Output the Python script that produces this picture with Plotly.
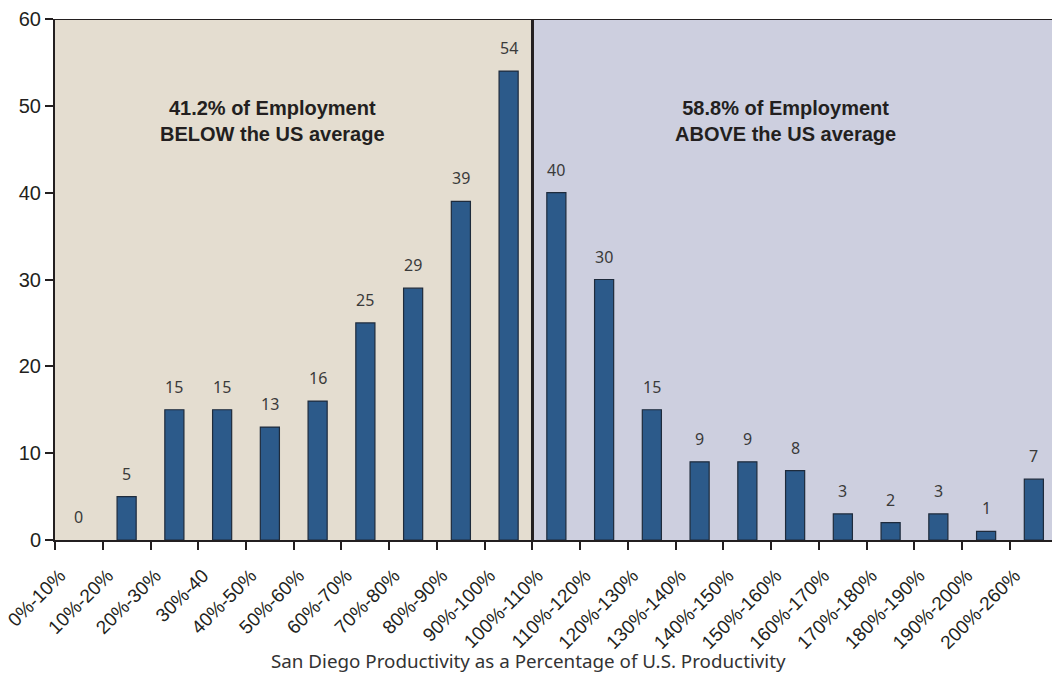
import plotly.graph_objects as go

# Productivity bands (San Diego as % of U.S. productivity) and counts per band
bands = ["0%-10%", "10%-20%", "20%-30%", "30%-40", "40%-50%", "50%-60%", "60%-70%",
         "70%-80%", "80%-90%", "90%-100%", "100%-110%", "110%-120%", "120%-130%",
         "130%-140%", "140%-150%", "150%-160%", "160%-170%", "170%-180%",
         "180%-190%", "190%-200%", "200%-260%"]
counts = [0, 5, 15, 15, 13, 16, 25, 29, 39, 54, 40, 30, 15, 9, 9, 8, 3, 2, 3, 1, 7]

below_text = "41.2% of Employment<br>BELOW the US average"
above_text = "58.8% of Employment<br>ABOVE the US average"
x_title = "San Diego Productivity as a Percentage of U.S. Productivity"

INK = "#231f20"
BAR = "#2c5a8a"
BEIGE = "#e4ddd0"
LAVENDER = "#cdcfdf"
SANS = "Liberation Sans, Arial, sans-serif"

n = len(bands)
split = 9.5  # boundary between 90%-100% and 100%-110%

fig = go.Figure()
fig.add_trace(go.Bar(
    x=bands, y=counts, width=0.4,
    marker=dict(color=BAR,
                line=dict(color="#1e2b3c", width=[0 if v == 0 else 1.2 for v in counts])),
))

# Value labels above each bar
for b, v in zip(bands, counts):
    fig.add_annotation(x=b, y=v, xref="x", yref="y", text=str(v), showarrow=False,
                       yanchor="middle", yshift=23,
                       font=dict(family="Noto Sans, sans-serif", size=16, color="#3a3a3a"))

# Shaded halves of the plot
fig.add_shape(type="rect", xref="x", yref="y", x0=-0.5, x1=split, y0=0, y1=60,
              fillcolor=BEIGE, line_width=0, layer="below")
fig.add_shape(type="rect", xref="x", yref="y", x0=split, x1=n - 0.5, y0=0, y1=60,
              fillcolor=LAVENDER, line_width=0, layer="below")
# Divider at the US average and top border
fig.add_shape(type="line", xref="x", yref="y", x0=split, x1=split, y0=0, y1=60,
              line=dict(color=INK, width=3))
fig.add_shape(type="line", xref="x", yref="y", x0=-0.5, x1=n - 0.5, y0=60, y1=60,
              line=dict(color=INK, width=2))

for xpos, txt in [(4.05, below_text), (14.8, above_text)]:
    fig.add_annotation(x=xpos, y=48.3, xref="x", yref="y", text=txt, showarrow=False,
                       font=dict(family=SANS, size=20, color=INK, weight="bold"),
                       align="center", yanchor="middle")

fig.add_annotation(x=0.475, y=-0.232, xref="paper", yref="paper", text=x_title,
                   showarrow=False, yanchor="middle",
                   font=dict(family="Noto Sans, sans-serif", size=18.8, color="#333333"))

fig.update_xaxes(
    type="category", range=[-0.5, 20.38],
    tickson="boundaries", ticks="outside", ticklen=8, tickwidth=2, tickcolor=INK,
    showline=True, linecolor=INK, linewidth=2, showgrid=False,
    tickangle=-45, ticklabelshift=-19, ticklabelstandoff=15,
    tickfont=dict(family=SANS, size=19, color=INK),
)
fig.update_yaxes(
    range=[0, 60], dtick=10, ticks="outside", ticklen=8, tickwidth=2, tickcolor=INK,
    showline=True, linecolor=INK, linewidth=2, showgrid=False, zeroline=False,
    tickfont=dict(family=SANS, size=20, color=INK),
)

fig.update_layout(
    width=1052, height=673,
    margin=dict(l=55, r=0, t=19, b=133),
    plot_bgcolor="white", paper_bgcolor="white",
    showlegend=False,
)

fig.write_html("out.html")
